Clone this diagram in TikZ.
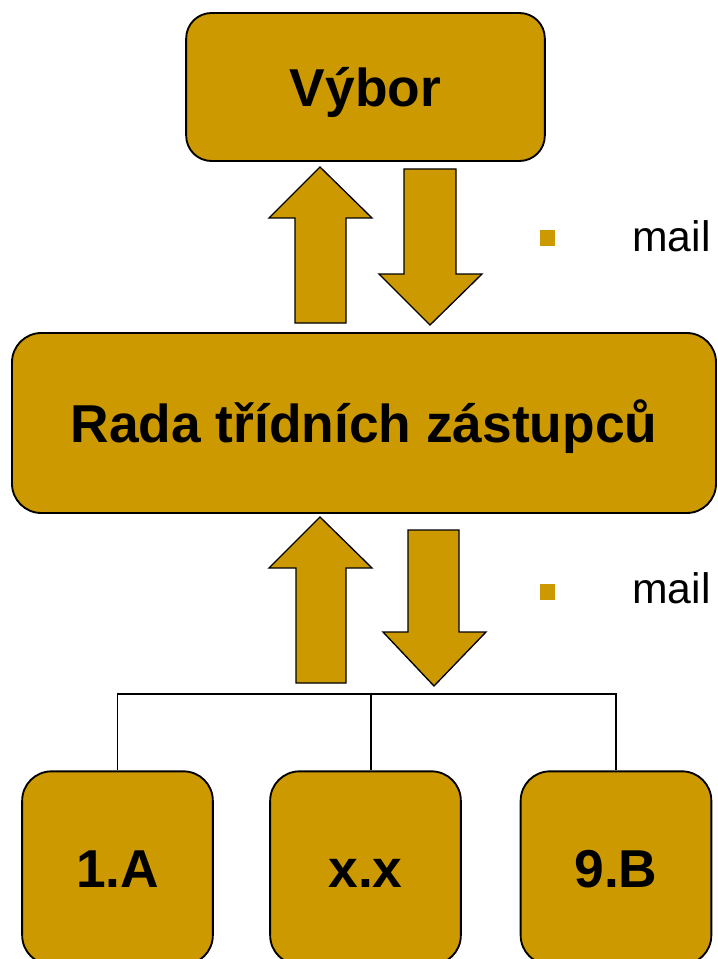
\documentclass[tikz,border=0pt]{standalone}
\usepackage{fontspec}
\setmainfont{Liberation Sans}
\definecolor{gold}{RGB}{204,153,0}
\tikzset{
  box/.style={draw, line width=1.4pt, fill=gold, rounded corners=22pt,
    text height=28.6pt, text depth=0pt,
    font=\fontsize{40}{48}\selectfont\bfseries},
  blockarrow/.style={draw, line width=1pt, fill=gold},
  bullet/.style={fill=gold, draw=none},
}
\begin{document}
\begin{tikzpicture}[x=0.75pt, y=-0.75pt]
\clip (0,0) rectangle (717,959);
% boxes
\node (vybor) [box, rounded corners=19pt, minimum width=269pt, minimum height=111pt] at (365.5,87) {Výbor};
\node (rada) [box, minimum width=528pt, minimum height=135pt] at (364,423) {Rada třídních zástupců};
\node (c1) [box, minimum width=143pt, minimum height=145pt] at (117.5,868) {1.A};
\node (cx) [box, minimum width=143pt, minimum height=145pt] at (365.5,868) {x.x};
\node (c9) [box, minimum width=143pt, minimum height=145pt] at (616,868) {9.B};

% arrows up and down
\draw [blockarrow] (295,323) -- (295,218) -- (269,218) -- (320,167) -- (372,218) -- (346,218) -- (346,323) -- cycle;
\draw [blockarrow] (404,169) -- (456,169) -- (456,274) -- (482,274) -- (430,325) -- (379,274) -- (404,274) -- cycle;
\draw [blockarrow] (296,683) -- (296,568) -- (269,568) -- (320,517) -- (372,568) -- (346,568) -- (346,683) -- cycle;
\draw [blockarrow] (408,530) -- (459,530) -- (459,632) -- (486,632) -- (434,686) -- (383,632) -- (408,632) -- cycle;

% mail
\fill [bullet] (540,230) rectangle (555,246);
\node (mail1) [anchor=base west, inner sep=0pt, font=\fontsize{32}{38}\selectfont] at (632,252) {mail};
\fill [bullet] (540,584) rectangle (555,600);
\node (mail2) [anchor=base west, inner sep=0pt, font=\fontsize{32}{38}\selectfont] at (632,603) {mail};

% tree
\coordinate (bus) at (371,694);
\draw [line width=0.9pt] (c1.north) -- (c1.north |- bus) -- (c9.north |- bus) -- (c9.north);
\draw [line width=0.9pt] (bus) -- (bus |- cx.north);
\end{tikzpicture}
\end{document}
